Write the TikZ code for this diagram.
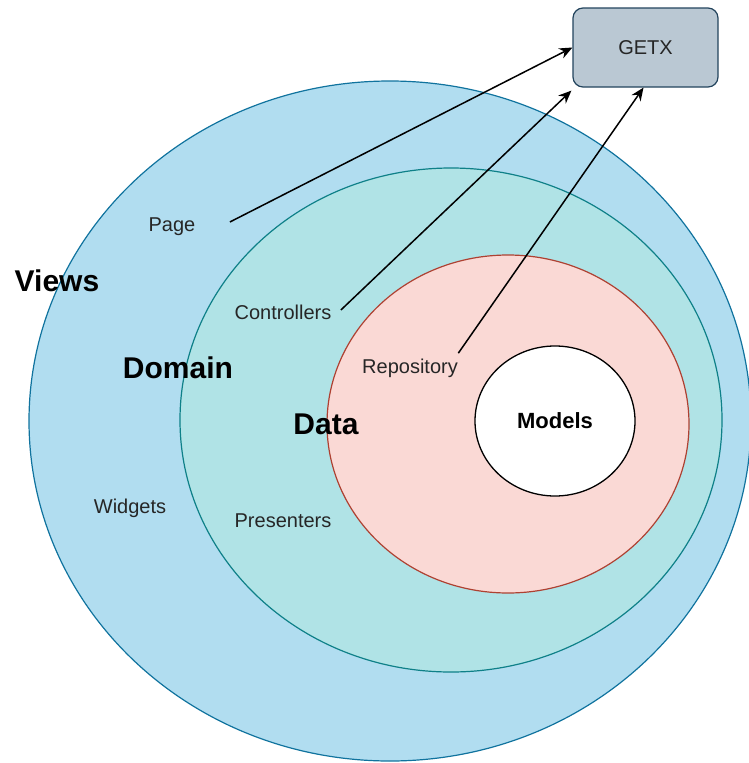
\documentclass[tikz,border=0pt]{standalone}
\usepackage{fontspec}
\setmainfont{Liberation Sans}
\usetikzlibrary{positioning,arrows.meta,shapes.geometric}
\definecolor{views}{HTML}{B1DDF0}
\definecolor{viewsline}{HTML}{10739E}
\definecolor{domain}{HTML}{B0E3E6}
\definecolor{domainline}{HTML}{0E8088}
\definecolor{data}{HTML}{FAD9D5}
\definecolor{dataline}{HTML}{AE4132}
\definecolor{getx}{HTML}{BAC8D3}
\definecolor{getxline}{HTML}{23445D}
\tikzset{
  layer/.style={font=\fontsize{30}{32}\selectfont\bfseries},
  part/.style={font=\fontsize{20}{22}\selectfont, text=black!85},
  dep/.style={-{Stealth[length=13pt,width=11pt]}, line width=1.5pt},
}

\begin{document}
\begin{tikzpicture}[x=1pt,y=-1pt]
\useasboundingbox (0,0) rectangle (749,763);
% layers, outside in
\filldraw[fill=views, draw=viewsline, line width=1.2pt] (390,421) ellipse [x radius=361, y radius=340];
\filldraw[fill=domain, draw=domainline, line width=1.2pt] (451,420) ellipse [x radius=271, y radius=252];
\filldraw[fill=data, draw=dataline, line width=1.2pt] (508,424) ellipse [x radius=181, y radius=169];
\node[ellipse, draw, line width=1.3pt, fill=white, minimum width=160pt, minimum height=150pt,
  font=\fontsize{22}{24}\selectfont\bfseries] (models) at (555,421) {Models};
\node[draw=getxline, fill=getx, line width=1.2pt, rounded corners=10pt, minimum width=145pt,
  minimum height=79pt, part] (getx) at (645.5,47.5) {GETX};
% labels
\node[layer] (views) at (57,281) {Views};
\node[layer] (domainlbl) at (178,368) {Domain};
\node[layer] (datalbl) at (326,424) {Data};
\node[part] (page) at (172,227) {Page};
\node[part] (widgets) at (130,508) {Widgets};
\node[part] (ctrl) at (283,312) {Controllers};
\node[part] (presenters) at (283,521) {Presenters};
\node[part] (repo) at (410,368) {Repository};
% dependencies on GetX
\draw[dep] ([xshift=31pt,yshift=5pt]page.east) -- (getx.west);
\draw[dep] ([xshift=6pt,yshift=2pt]ctrl.east) -- ([xshift=-1pt,yshift=-3pt]getx.south west);
\draw[dep] ([xshift=-3pt,yshift=2pt]repo.north east) -- ([xshift=-2pt]getx.south);
\end{tikzpicture}
\end{document}
